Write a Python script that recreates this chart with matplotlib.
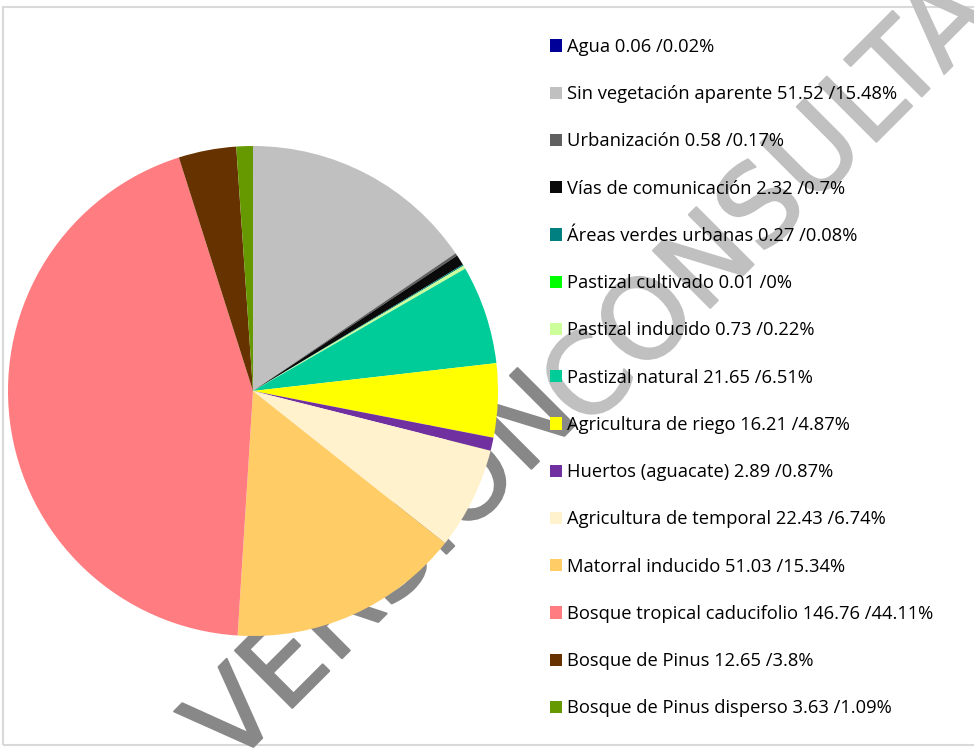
import matplotlib.pyplot as plt
import matplotlib.patheffects as pe
from matplotlib.patches import Rectangle

# ── DATA ───────────────────────────────────────────────────
categorias = [
    "Agua", "Sin vegetación aparente", "Urbanización", "Vías de comunicación",
    "Áreas verdes urbanas", "Pastizal cultivado", "Pastizal inducido",
    "Pastizal natural", "Agricultura de riego", "Huertos (aguacate)",
    "Agricultura de temporal", "Matorral inducido",
    "Bosque tropical caducifolio", "Bosque de Pinus", "Bosque de Pinus disperso",
]
superficie = [0.06, 51.52, 0.58, 2.32, 0.27, 0.01, 0.73, 21.65, 16.21,
              2.89, 22.43, 51.03, 146.76, 12.65, 3.63]
porcentaje = [0.02, 15.48, 0.17, 0.7, 0.08, 0, 0.22, 6.51, 4.87,
              0.87, 6.74, 15.34, 44.11, 3.8, 1.09]

# ── PALETTE ────────────────────────────────────────────────
COLORES = ["#000099", "#C0C0C0", "#606060", "#0A0A0A", "#008080", "#00FF00",
           "#CCFF99", "#00CC99", "#FFFF00", "#7030A0", "#FFF2CC", "#FFCC66",
           "#FF7C80", "#663300", "#669900"]
MARCA_OSCURA = "#888888"
MARCA_CLARA  = "#C0C0C0"

W, H = 974, 749
fig = plt.figure(figsize=(W / 100, H / 100), dpi=100)
fig.patch.set_facecolor("white")

# marco del gráfico
fig.add_artist(Rectangle((3 / W, 4 / H), 1.0, 1 - 11 / H,
                         transform=fig.transFigure, fill=False,
                         edgecolor="#D9D9D9", linewidth=1.5, zorder=-3))

# marca de agua detrás del pastel
def marca_agua(x, y, texto, color):
    fig.text(x / W, 1 - y / H, texto, color=color, rotation=45,
             rotation_mode="anchor", ha="center", va="center", fontsize=80,
             family=["Liberation Sans Narrow", "DejaVu Sans"], zorder=-2,
             path_effects=[pe.Stroke(linewidth=1.5, foreground=color),
                           pe.Normal()])

marca_agua(385, 572, "VERSIÓN", MARCA_OSCURA)
marca_agua(770, 205, "CONSULTA", MARCA_CLARA)

# ── PIE ────────────────────────────────────────────────────
cx, cy, r = 253, 391, 245
ax = fig.add_axes([(cx - r) / W, (H - cy - r) / H, 2 * r / W, 2 * r / H])
wedges, _ = ax.pie(superficie, colors=COLORES, startangle=90,
                   counterclock=False, radius=1,
                   wedgeprops=dict(linewidth=0, antialiased=True))
ax.set_xlim(-1, 1)
ax.set_ylim(-1, 1)
ax.axis("off")

etiquetas = [f"{c} {s:g} /{p:g}%"
             for c, s, p in zip(categorias, superficie, porcentaje)]

fig.legend(wedges, etiquetas, loc="upper left",
           bbox_to_anchor=(550 / W, 1 - 38 / H), frameon=False,
           prop=dict(family="Open Sans", size=13.2), handlelength=0.64,
           handleheight=0.64, handletextpad=0.27, labelspacing=1.595,
           borderpad=0, borderaxespad=0)

fig.savefig("out.png", dpi=100, facecolor="white")
